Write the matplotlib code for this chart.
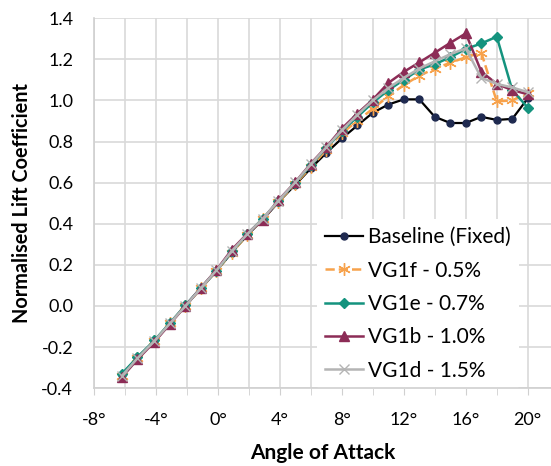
import matplotlib
matplotlib.use("Agg")
import matplotlib.pyplot as plt
from matplotlib.ticker import MultipleLocator, FuncFormatter

plt.rcParams['font.family'] = ['Lato', 'DejaVu Sans']

# Угол атаки (градусы)
angles = [-6.2, -5.2, -4.1, -3.1, -2.1, -1.1, -0.1, 0.9, 1.9, 2.9, 3.9, 5, 6, 7,
          8, 9, 10, 11, 12, 13, 14, 15, 16, 17, 18, 19, 20]

baseline = [-0.335, -0.25, -0.17, -0.085, 0.0, 0.085, 0.17, 0.26, 0.345, 0.42, 0.505,
            0.59, 0.67, 0.745, 0.815, 0.878, 0.94, 0.98, 1.005, 1.005, 0.92, 0.89,
            0.89, 0.92, 0.905, 0.91, 1.01]
vg1f = [-0.34, -0.255, -0.17, -0.085, 0.0, 0.085, 0.17, 0.26, 0.345, 0.425, 0.505,
        0.595, 0.675, 0.76, 0.84, 0.90, 0.96, 1.02, 1.075, 1.12, 1.155, 1.183,
        1.21, 1.232, 0.995, 1.0, 1.035]
vg1e = [-0.33, -0.25, -0.168, -0.083, 0.003, 0.088, 0.172, 0.265, 0.35, 0.425, 0.51,
        0.6, 0.685, 0.77, 0.85, 0.92, 0.99, 1.05, 1.10, 1.15, 1.176, 1.21, 1.25,
        1.277, 1.31, 1.05, 0.965]
vg1b = [-0.347, -0.26, -0.175, -0.088, 0.0, 0.088, 0.175, 0.274, 0.352, 0.42, 0.514,
        0.603, 0.693, 0.774, 0.863, 0.936, 1.004, 1.085, 1.139, 1.185, 1.232, 1.28,
        1.326, 1.14, 1.08, 1.05, 1.03]
vg1d = [-0.34, -0.255, -0.17, -0.085, 0.0, 0.087, 0.173, 0.268, 0.35, 0.425, 0.512,
        0.602, 0.69, 0.772, 0.855, 0.93, 1.0, 1.06, 1.11, 1.155, 1.19, 1.225,
        1.253, 1.11, 1.08, 1.063, 1.04]

fig = plt.figure(figsize=(5.51, 4.66), dpi=100)
ax = fig.add_axes([0.1706, 0.167, 0.8294, 0.794])

ax.plot(angles, baseline, '-', color='black', lw=1.6, marker='o', ms=5,
        mfc='#1f2a50', mec='#1f2a50', label='Baseline (Fixed)', zorder=3)
ax.plot(angles, vg1f, '--', color='#f7a24c', lw=1.8, marker=(6, 2, 0), ms=9,
        mec='#f7a24c', label='VG1f - 0.5%', zorder=3)
ax.plot(angles, vg1e, '-', color='#14937e', lw=1.8, marker='D', ms=5,
        mfc='#14937e', mec='#14937e', label='VG1e - 0.7%', zorder=3)
ax.plot(angles, vg1b, '-', color='#8c2c56', lw=1.8, marker='^', ms=7,
        mfc='#8c2c56', mec='#8c2c56', label='VG1b - 1.0%', zorder=3)
ax.plot(angles, vg1d, '-', color='#b4b4b4', lw=1.8, marker='x', ms=7,
        mec='#b4b4b4', label='VG1d - 1.5%', zorder=3)

ax.set_xlim(-8, 21.5)
ax.set_ylim(-0.4, 1.4)
ax.xaxis.set_major_locator(MultipleLocator(4))
ax.xaxis.set_minor_locator(MultipleLocator(2))
ax.yaxis.set_major_locator(MultipleLocator(0.2))
ax.xaxis.set_major_formatter(FuncFormatter(lambda v, p: f'{int(round(v))}°'))
ax.yaxis.set_major_formatter(FuncFormatter(lambda v, p: f'{v:.1f}'))

ax.grid(True, which='both', color='#d9d9d9', lw=1.2, zorder=0)
ax.set_axisbelow(True)
for s in ['top', 'right']:
    ax.spines[s].set_visible(False)
for s in ['left', 'bottom']:
    ax.spines[s].set_color('#d0d0d0')
    ax.spines[s].set_linewidth(1.2)
ax.tick_params(axis='x', which='both', length=5, color='#d0d0d0', labelsize=13, pad=12)
ax.tick_params(axis='y', length=0, labelsize=13, pad=15)

ax.set_xlabel('Angle of Attack', fontsize=15, fontweight='bold')
ax.set_ylabel('Normalised Lift Coefficient', fontsize=14.3, fontweight='bold')
ax.xaxis.set_label_coords(0.5, -0.1486)
ax.yaxis.set_label_coords(-0.1357, 0.5)

leg = ax.legend(loc='lower right', bbox_to_anchor=(0.953, -0.03), fontsize=15,
                frameon=True, framealpha=1, edgecolor='white', facecolor='white',
                handlelength=1.8, handletextpad=0.25, labelspacing=0.64, borderpad=0.4)
leg.get_frame().set_linewidth(0)
leg.set_zorder(2)

fig.savefig('out.png', dpi=100)
